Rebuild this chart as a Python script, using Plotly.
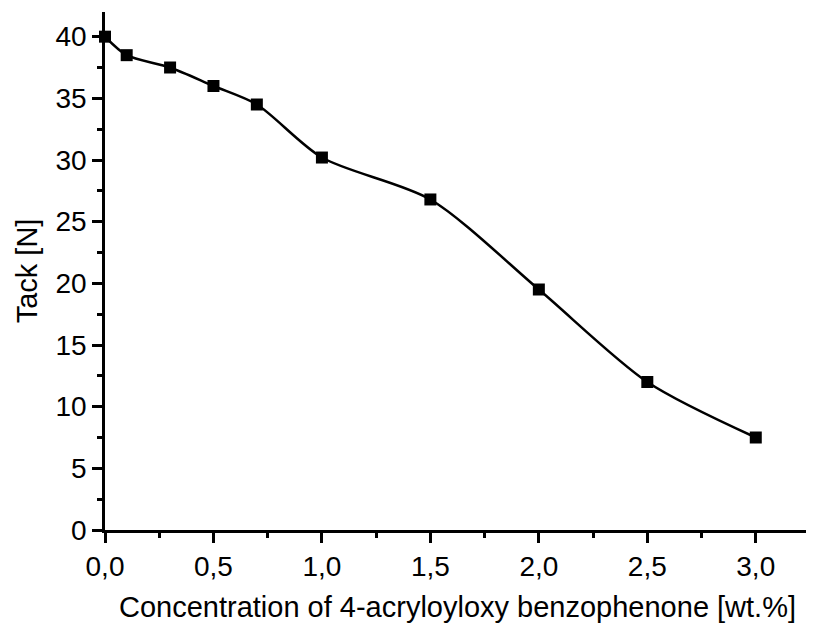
import plotly.graph_objects as go

conc = [0.0, 0.1, 0.3, 0.5, 0.7, 1.0, 1.5, 2.0, 2.5, 3.0]
tack = [40.0, 38.5, 37.5, 36.0, 34.5, 30.2, 26.8, 19.5, 12.0, 7.5]

x_ticks = [0, 0.5, 1.0, 1.5, 2.0, 2.5, 3.0]
x_labels = ["0,0", "0,5", "1,0", "1,5", "2,0", "2,5", "3,0"]
y_ticks = [0, 5, 10, 15, 20, 25, 30, 35, 40]

FAM = "Liberation Sans"
tick_font = dict(family=FAM, size=28, color="black")
title_font = dict(family=FAM, size=29, color="black")

fig = go.Figure()
fig.add_trace(go.Scatter(
    x=conc, y=tack, mode="lines+markers",
    line=dict(color="black", width=2.5, shape="spline", smoothing=0.8),
    marker=dict(symbol="square", size=12, color="black"),
    cliponaxis=False, showlegend=False,
))

fig.update_layout(
    width=806, height=622,
    paper_bgcolor="white", plot_bgcolor="white",
    margin=dict(l=97, r=4, t=4, b=100, autoexpand=False),
    font=dict(family=FAM, size=28, color="black"),
)
fig.update_xaxes(
    range=[0, 3.25], tickvals=x_ticks, ticktext=x_labels, automargin=False,
    showline=True, linecolor="black", linewidth=2.5, showgrid=False, zeroline=False,
    ticks="outside", ticklen=10, tickwidth=2.5, tickcolor="black",
    minor=dict(dtick=0.25, ticks="outside", ticklen=5, tickwidth=2.5, tickcolor="black", showgrid=False),
    title=dict(text="Concentration of 4-acryloyloxy benzophenone [wt.%]", standoff=16, font=title_font),
    tickfont=tick_font,
)
fig.update_yaxes(
    range=[0, 42], tickvals=y_ticks, automargin=False,
    showline=True, linecolor="black", linewidth=2.5, showgrid=False, zeroline=False,
    ticks="outside", ticklen=10, tickwidth=2.5, tickcolor="black",
    minor=dict(dtick=2.5, ticks="outside", ticklen=5, tickwidth=2.5, tickcolor="black", showgrid=False),
    title=dict(text="Tack [N]", standoff=10, font=title_font),
    tickfont=tick_font,
)
fig.write_html("out.html")
